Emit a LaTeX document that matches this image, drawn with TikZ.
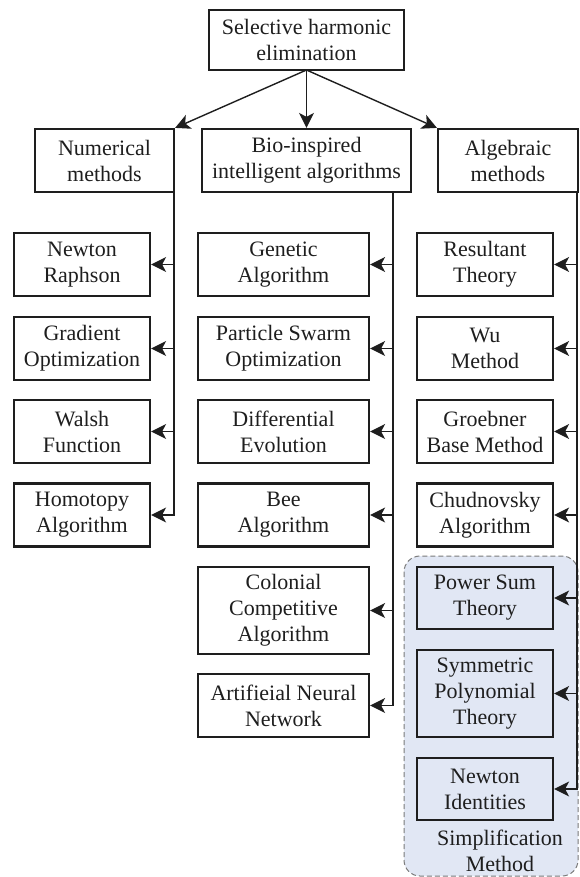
\documentclass[tikz,border=0pt]{standalone}
\usepackage{fontspec}
\setmainfont{Liberation Serif}
\usetikzlibrary{arrows.meta}
\definecolor{ink}{HTML}{1E1E1E}
\definecolor{groupfill}{HTML}{E1E7F4}
\definecolor{groupline}{HTML}{7A7A7A}
\begin{document}
\begin{tikzpicture}[x=1pt,y=-1pt,
  box/.style={draw=ink,line width=2.2pt,align=center,inner sep=0pt,
    font=\fontsize{22}{26}\selectfont,text=ink},
  colL/.style={box,minimum width=136pt,minimum height=63pt},
  colM/.style={box,minimum width=171pt,minimum height=63pt},
  colR/.style={box,minimum width=136pt,minimum height=63pt},
  tall/.style={minimum height=87pt},
  arr/.style={draw=ink,line width=1.4pt,-{Stealth[length=15pt,width=15pt,inset=4pt]}},
  grp/.style={draw=groupline,fill=groupfill,dashed,dash pattern=on 5pt off 3pt,line width=1pt,rounded corners=16pt}
]
\useasboundingbox (0,0) rectangle (579,877);
% group background
\path[grp] (404,556) rectangle (578,876);
\node[text=ink,font=\fontsize{22}{26}\selectfont,align=center] (simp) at (500,851) {Simplification\\Method};

% top and level-1 nodes
\node[box,minimum width=195pt,minimum height=60pt] (she) at (306.5,40) {Selective harmonic\\elimination};
\node[box,minimum width=139pt,minimum height=63pt] (num) at (104.5,160.5) {Numerical\\methods};
\node[box,minimum width=209pt,minimum height=63pt] (bio) at (306.5,160.5) {Bio-inspired\\intelligent algorithms};
\node[box,minimum width=140pt,minimum height=63pt] (alg) at (508,160.5) {Algebraic\\methods};

% left column
\node[colL] (nr) at (82,264.5) {Newton\\Raphson};
\node[colL] (go) at (82,348.5) {Gradient\\Optimization};
\node[colL] (wf) at (82,431.5) {Walsh\\Function};
\node[colL] (ha) at (82,515) {Homotopy\\Algorithm};

% middle column
\node[colM] (ga) at (283.5,264.5) {Genetic\\Algorithm};
\node[colM] (pso) at (283.5,348.5) {Particle Swarm\\Optimization};
\node[colM] (de) at (283.5,431.5) {Differential\\Evolution};
\node[colM] (bee) at (283.5,515) {Bee\\Algorithm};
\node[colM,tall] (cca) at (283.5,610.5) {Colonial\\Competitive\\Algorithm};
\node[colM] (ann) at (283.5,705.5) {Artifieial Neural\\Network};

% right column
\node[colR] (rt) at (485,264.5) {Resultant\\Theory};
\node[colR] (wu) at (485,348.5) {Wu\\Method};
\node[colR] (gb) at (485,431.5) {Groebner\\Base Method};
\node[colR] (ch) at (485,515) {Chudnovsky\\Algorithm};
\node[colR,minimum height=62pt] (ps) at (485,598) {Power Sum\\Theory};
\node[colR,tall] (sp) at (485,693.5) {Symmetric\\Polynomial\\Theory};
\node[colR,minimum height=62pt] (ni) at (485,789) {Newton\\Identities};

% trunk origins
\coordinate (tn) at (174,192);
\coordinate (tb) at (393,192);
\coordinate (ta) at (577,192);

% top arrows
\coordinate (sheb) at (306.5,70);
\draw[arr] (sheb) -- (num.north east);
\draw[arr] (sheb) -- (bio.north);
\draw[arr] (sheb) -- (alg.north west);

% left column connectors
\foreach \n in {nr,go,wf,ha} \draw[arr] (tn) |- (\n.east);
% middle
\foreach \n in {ga,pso,de,bee,cca,ann} \draw[arr] (tb) |- (\n.east);
% right
\foreach \n in {rt,wu,gb,ch,ps,sp,ni} \draw[arr] (ta) |- (\n.east);
\end{tikzpicture}
\end{document}
